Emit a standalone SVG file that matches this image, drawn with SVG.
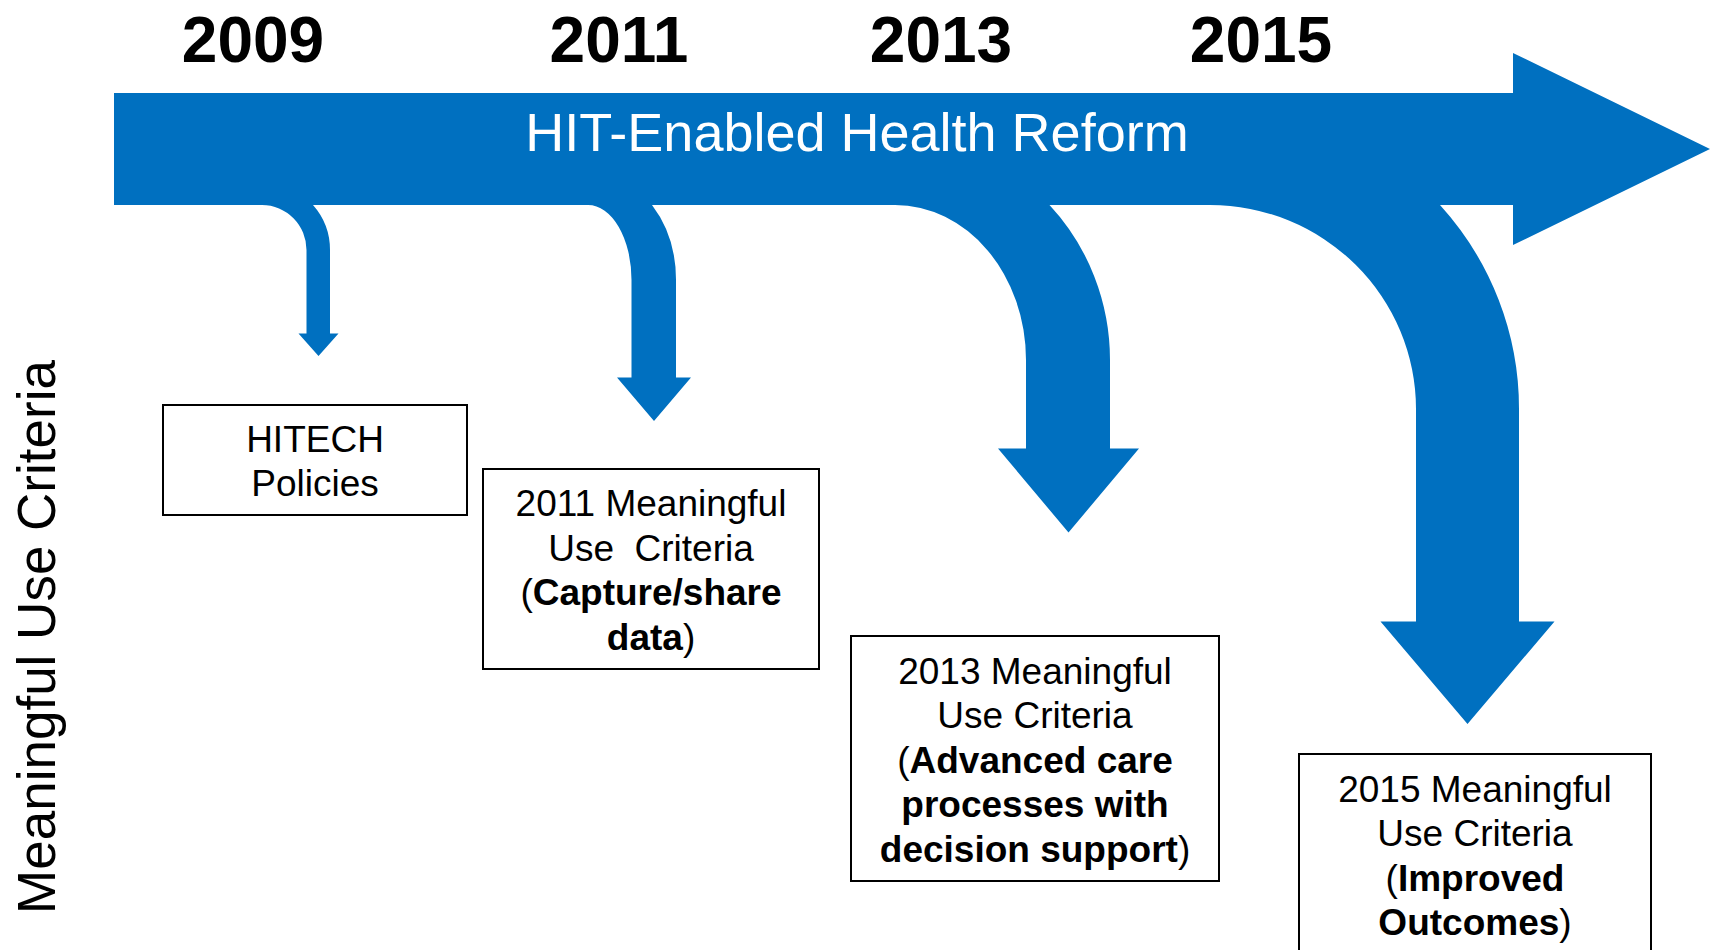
<svg xmlns="http://www.w3.org/2000/svg" width="1710" height="950" viewBox="0 0 1710 950">
<style>
.blue{fill:#0070C0;stroke:none}
.box{fill:#ffffff;stroke:#000000;stroke-width:2}
.yr{font-family:"Liberation Sans",Arial,sans-serif;font-weight:bold;font-size:64px;fill:#000;text-anchor:middle}
.t{font-family:"Liberation Sans",Arial,sans-serif;font-size:37px;fill:#000;text-anchor:middle}
.b{font-weight:bold}
.bar{font-family:"Liberation Sans",Arial,sans-serif;font-size:54px;fill:#fff;text-anchor:middle}
.side{font-family:"Liberation Sans",Arial,sans-serif;font-size:53px;fill:#000;text-anchor:middle}
</style>
<rect width="1710" height="950" fill="#ffffff"/>
<g id="years">
<text class="yr" x="253" y="62">2009</text>
<text class="yr" x="619" y="62">2011</text>
<text class="yr" x="941" y="62">2013</text>
<text class="yr" x="1261" y="62">2015</text>
</g>
<g id="connectors">
<path id="arrow-2009" class="blue" d="M262,205 A44.5,45 0 0 1 306.5,250 V333.5 H298.5 L318.5,356 L338.5,333.5 H330 V250 A68,68 0 0 0 313,205 L313,200 L262,200 Z"/>
<path id="arrow-2011" class="blue" d="M588,205 A43.5,75 0 0 1 631.5,280 V377.5 H617 L654,421 L691,377.5 H676 V280 A88,109 0 0 0 652,205 L652,200 L588,200 Z"/>
<path id="arrow-2013" class="blue" d="M895,205 A131,155 0 0 1 1026,360 V448.5 H998 L1068.5,532.5 L1139,448.5 H1110 V360 A215,223 0 0 0 1049.5,205 L1049.5,200 L895,200 Z"/>
<path id="arrow-2015" class="blue" d="M1210,205 A206,204 0 0 1 1416,409 V621.5 H1380.5 L1467.5,724 L1554.5,621.5 H1519 V409 A309,305 0 0 0 1440,205 L1440,200 L1210,200 Z"/>
</g>
<g id="timeline">
<path class="blue" d="M114,93 H1513 V53 L1710,149 L1513,245 V205 H114 Z"/>
<text class="bar" x="857" y="151">HIT-Enabled Health Reform</text>
</g>
<g id="node-hitech">
<rect class="box" x="163" y="405" width="304" height="110"/>
<text class="t" x="315" y="452">HITECH</text>
<text class="t" x="315" y="496">Policies</text>
</g>
<g id="node-2011">
<rect class="box" x="483" y="469" width="336" height="200"/>
<text class="t" x="651" y="516">2011 Meaningful</text>
<text class="t" x="651" y="560.5" xml:space="preserve">Use  Criteria</text>
<text class="t" x="651" y="605">(<tspan class="b">Capture/share</tspan></text>
<text class="t" x="651" y="649.5"><tspan class="b">data</tspan>)</text>
</g>
<g id="node-2013">
<rect class="box" x="851" y="636" width="368" height="245"/>
<text class="t" x="1035" y="683.5">2013 Meaningful</text>
<text class="t" x="1035" y="728">Use Criteria</text>
<text class="t" x="1035" y="772.5">(<tspan class="b">Advanced care</tspan></text>
<text class="t" x="1035" y="817"><tspan class="b">processes with</tspan></text>
<text class="t" x="1035" y="861.5"><tspan class="b">decision support</tspan>)</text>
</g>
<g id="node-2015">
<rect class="box" x="1299" y="754" width="352" height="210"/>
<text class="t" x="1475" y="801.5">2015 Meaningful</text>
<text class="t" x="1475" y="846">Use Criteria</text>
<text class="t" x="1475" y="890.5">(<tspan class="b">Improved</tspan></text>
<text class="t" x="1475" y="935"><tspan class="b">Outcomes</tspan>)</text>
</g>
<g id="side-label">
<text class="side" transform="translate(55,637) rotate(-90)">Meaningful Use Criteria</text>
</g>
</svg>
